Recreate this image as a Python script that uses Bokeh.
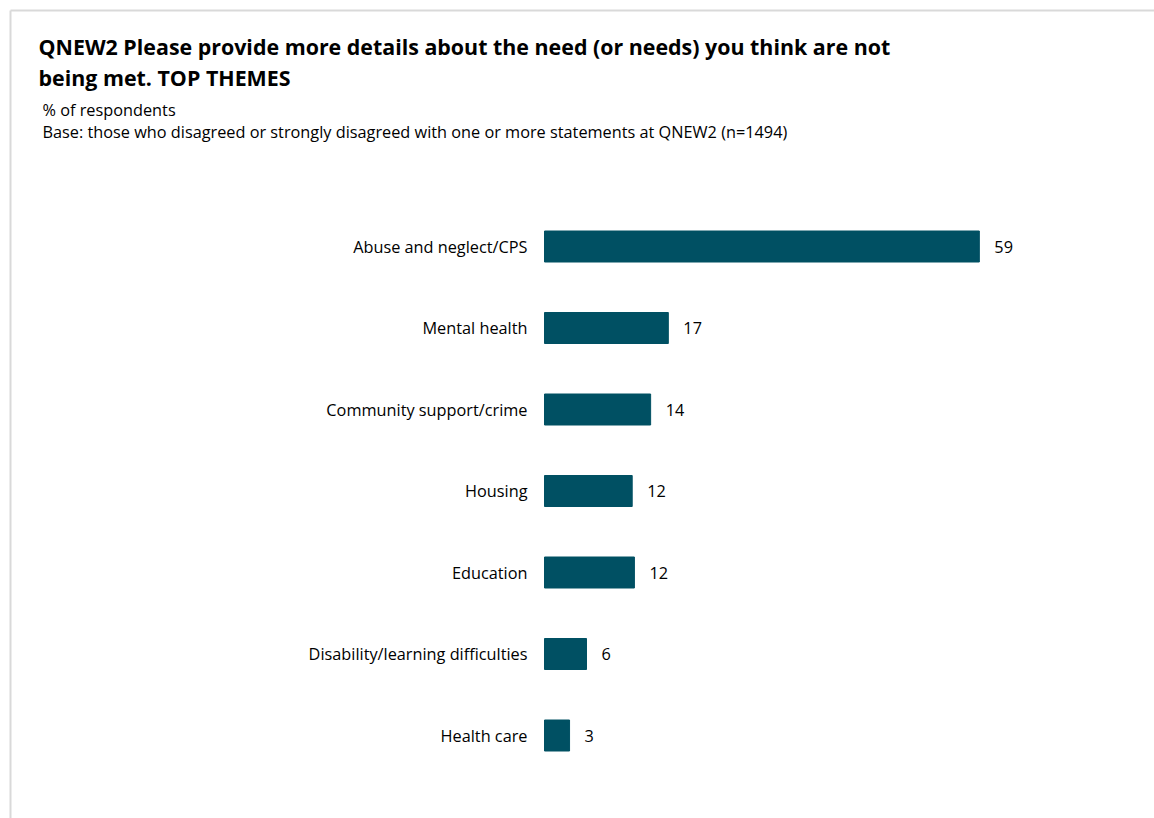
from bokeh.plotting import figure
from bokeh.models import Range1d
from bokeh.core.properties import value
from bokeh.embed import file_html
from bokeh.resources import INLINE

# ---- data ----
categories = [
    "Abuse and neglect/CPS",
    "Mental health",
    "Community support/crime",
    "Housing",
    "Education",
    "Disability/learning difficulties",
    "Health care",
]
# bar lengths (labels are the rounded values)
values = [59.0, 16.8, 14.4, 11.9, 12.2, 5.7, 3.4]
value_labels = [str(round(v)) for v in values]
title_lines = [
    "QNEW2 Please provide more details about the need (or needs) you think are not",
    "being met. TOP THEMES",
]
subtitle_lines = [
    "% of respondents",
    "Base: those who disagreed or strongly disagreed with one or more statements at QNEW2 (n=1494)",
]

# ---- layout helpers (pixel -> data) ----
W, H = 1154, 818
PX_PER_UNIT = 7.37
ZERO_PX = 544
ROW_PX = 81.5
FIRST_ROW_PX = 246


def px_x(px):
    return (px - ZERO_PX) / PX_PER_UNIT


def px_y(py):
    return -(py - FIRST_ROW_PX) / ROW_PX


FONT = value("Open Sans")
BAR_COLOR = "#005063"

p = figure(
    width=W, height=H,
    x_range=Range1d(px_x(0), px_x(W)),
    y_range=Range1d(px_y(H), px_y(0)),
    output_backend="svg", toolbar_location=None,
    x_axis_location=None, y_axis_location=None,
    title_location=None, min_border=0,
)
p.grid.visible = False
p.outline_line_color = None
p.background_fill_color = "white"
p.border_fill_color = "white"

ypos = [-i for i in range(len(categories))]

p.hbar(y=ypos, left=0, right=values, height=31 / ROW_PX,
       fill_color=BAR_COLOR, line_color=BAR_COLOR)

p.text(x=[0] * len(categories), y=ypos, text=categories, x_offset=-17,
       text_align="right", text_baseline="middle", text_font=FONT,
       text_font_size="16.3px", text_color="#000000")

p.text(x=values, y=ypos, text=value_labels, x_offset=15,
       text_align="left", text_baseline="middle", text_font=FONT,
       text_font_size="16.3px", text_color="#000000")

p.text(x=[px_x(38)] * 2, y=[px_y(46), px_y(77)], text=title_lines,
       text_align="left", text_baseline="middle", text_font=FONT,
       text_font_style="bold", text_font_size="21.4px", text_color="#000000")

p.text(x=[px_x(42)] * 2, y=[px_y(109), px_y(131)], text=subtitle_lines,
       text_align="left", text_baseline="middle", text_font=FONT,
       text_font_size="16.3px", text_color="#000000")

# light frame border (top and left)
p.segment(x0=[px_x(10), px_x(10)], y0=[px_y(10), px_y(10)],
          x1=[px_x(W), px_x(10)], y1=[px_y(10), px_y(H)],
          line_color="#d9d9d9", line_width=2)

open("out.html", "w").write(file_html(p, INLINE))
